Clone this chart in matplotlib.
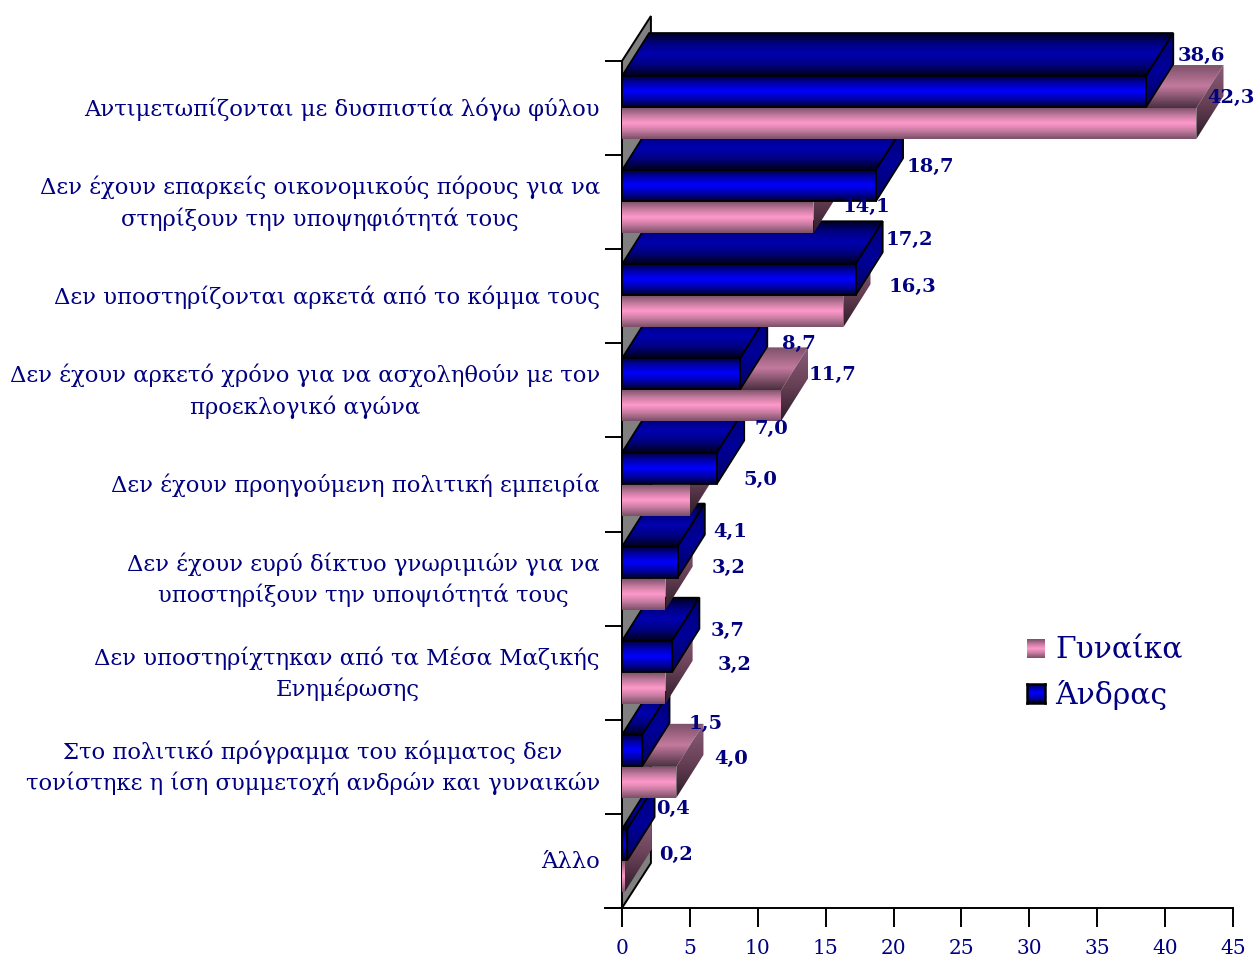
import numpy as np
import matplotlib
matplotlib.use('Agg')
import matplotlib.pyplot as plt
from matplotlib.colors import LinearSegmentedColormap
from matplotlib.patches import Polygon

categories = [
    'Αντιμετωπίζονται με δυσπιστία λόγω φύλου',
    'Δεν έχουν επαρκείς οικονομικούς πόρους για να\nστηρίξουν την υποψηφιότητά τους',
    'Δεν υποστηρίζονται αρκετά από το κόμμα τους',
    'Δεν έχουν αρκετό χρόνο για να ασχοληθούν με τον\nπροεκλογικό αγώνα',
    'Δεν έχουν προηγούμενη πολιτική εμπειρία',
    'Δεν έχουν ευρύ δίκτυο γνωριμιών για να\nυποστηρίξουν την υποψιότητά τους',
    'Δεν υποστηρίχτηκαν από τα Μέσα Μαζικής\nΕνημέρωσης',
    'Στο πολιτικό πρόγραμμα του κόμματος δεν\nτονίστηκε η ίση συμμετοχή ανδρών και γυναικών',
    'Άλλο',
]
women = [42.3, 14.1, 16.3, 11.7, 5.0, 3.2, 3.2, 4.0, 0.2]
men = [38.6, 18.7, 17.2, 8.7, 7.0, 4.1, 3.7, 1.5, 0.4]
series_names = ['Γυναίκα', 'Άνδρας']

# label offsets from the bar end, in pixels
men_offsets = [(55, 52), (54, 35), (54, 56), (59, 46), (54, 56), (53, 47), (55, 42), (63, 43), (46, 52)]
women_offsets = [(35, 10), (53, -5), (69, 9), (52, 15), (70, 5), (63, 11), (69, 8), (55, 8), (51, 6)]

NAVY = '#000080'
FONT = 'DejaVu Serif'
W, H = 1256, 958

# 3D look
WALL_DX, WALL_DY = 2.13, 0.478
BAR_DX, BAR_DY = 2.0, 0.457
BAR_H = 0.33


def ramp(name, colors):
    return LinearSegmentedColormap.from_list(name, colors)


blue_front = ramp('bf', [(0, '#000030'), (0.22, '#0000a0'), (0.5, '#0000ff'), (0.78, '#0000a0'), (1, '#000030')])
blue_top = ramp('bt', [(0, '#00001a'), (0.25, '#000080'), (0.5, '#0000b0'), (0.75, '#000080'), (1, '#00001a')])
blue_side = ramp('bs', ['#000078', '#000098', '#000068'])
pink_front = ramp('pf', [(0, '#7a5068'), (0.25, '#c47a9e'), (0.5, '#ff99cc'), (0.75, '#c47a9e'), (1, '#7a5068')])
pink_top = ramp('pt', ['#7a5068', '#c47a9e', '#4a3040'])
pink_side = ramp('ps', ['#8a5c78', '#6a4258', '#2e1c28'])

gradient = np.linspace(0, 1, 64).reshape(-1, 1)

fig = plt.figure(figsize=(W / 100, H / 100), dpi=100)
ax = fig.add_axes([622 / W, 1 - 908 / H, 611 / W, 847 / H])
ax.patch.set_alpha(0)
ax.set_xlim(0, 45)
ax.set_ylim(0, 9)
ax.set_autoscale_on(False)

z = [3]


def face(points, cmap, edge):
    """One parallelogram of a bar, filled with a vertical gradient"""
    z[0] += 1
    points = np.array(points)
    poly = Polygon(points, closed=True, facecolor='none', edgecolor=edge if edge else 'none',
                   linewidth=1.3, zorder=z[0] + 0.5, clip_on=False)
    ax.add_patch(poly)
    im = ax.imshow(gradient, cmap=cmap, aspect='auto', zorder=z[0], vmin=0, vmax=1,
                   extent=(points[:, 0].min(), points[:, 0].max(), points[:, 1].min(), points[:, 1].max()))
    im.set_clip_box(fig.bbox)
    im.set_clip_path(poly)


def bar3d(value, y0, front, top, side, edge):
    y1 = y0 + BAR_H
    face([(0, y1), (value, y1), (value + BAR_DX, y1 + BAR_DY), (BAR_DX, y1 + BAR_DY)], top, edge)
    face([(value, y0), (value + BAR_DX, y0 + BAR_DY), (value + BAR_DX, y1 + BAR_DY), (value, y1)], side, edge)
    face([(0, y0), (value, y0), (value, y1), (0, y1)], front, edge)


# grey wall at the back
ax.add_patch(Polygon([(0, 0), (WALL_DX, WALL_DY), (WALL_DX, 9 + WALL_DY), (0, 9)], closed=True,
                     facecolor='#808080', edgecolor='black', linewidth=1.4, zorder=2, clip_on=False))

# upper bars overlap the lower ones, so start from the bottom
centers = 8.5 - np.arange(len(categories))
for i in range(len(categories) - 1, -1, -1):
    bar3d(women[i], centers[i] - BAR_H, pink_front, pink_top, pink_side, None)
    bar3d(men[i], centers[i] + 0.01, blue_front, blue_top, blue_side, 'black')

for i in range(len(categories)):
    ax.annotate(f'{men[i]:.1f}'.replace('.', ','), (men[i], centers[i]), xytext=men_offsets[i],
                textcoords='offset pixels', ha='center', va='center', color=NAVY, fontsize=14,
                fontweight='bold', family=FONT, zorder=500)
    ax.annotate(f'{women[i]:.1f}'.replace('.', ','), (women[i], centers[i]), xytext=women_offsets[i],
                textcoords='offset pixels', ha='center', va='center', color=NAVY, fontsize=14,
                fontweight='bold', family=FONT, zorder=500)
    ax.annotate(categories[i], (0, centers[i]), xytext=(-22, -1), textcoords='offset pixels',
                ha='right', va='center', multialignment='center', color=NAVY, fontsize=16.4,
                family=FONT, linespacing=1.43, annotation_clip=False)

ax.set_xticks(np.arange(0, 46, 5))
ax.set_yticks(np.arange(0, 10))
ax.set_yticklabels([])
ax.tick_params(axis='x', length=14, width=1.4, pad=8, labelsize=14.5, labelcolor=NAVY)
ax.tick_params(axis='y', length=12.5, width=1.4)
for lab in ax.get_xticklabels():
    lab.set_family(FONT)
ax.spines['top'].set_visible(False)
ax.spines['right'].set_visible(False)
ax.spines['left'].set_linewidth(1.4)
ax.spines['bottom'].set_linewidth(1.4)
ax.plot([-17 * 45 / 611, 0], [0, 0], color='black', lw=1.4, clip_on=False, zorder=3)

# legend
swatches = [(1027, 639, pink_front, None), (1027, 684, blue_front, 'black')]
for name, (sx, sy, cmap, edge) in zip(series_names, swatches):
    sw = fig.add_axes([sx / W, 1 - (sy + 19) / H, 18 / W, 19 / H])
    sw.imshow(gradient, cmap=cmap, aspect='auto')
    sw.set_xticks([])
    sw.set_yticks([])
    for s in sw.spines.values():
        s.set_visible(edge is not None)
        s.set_linewidth(1.8)
    fig.text(1055 / W, 1 - (sy + 11) / H, name, ha='left', va='center', color=NAVY,
             fontsize=21.5, family=FONT)

fig.savefig('out.png', dpi=100)
